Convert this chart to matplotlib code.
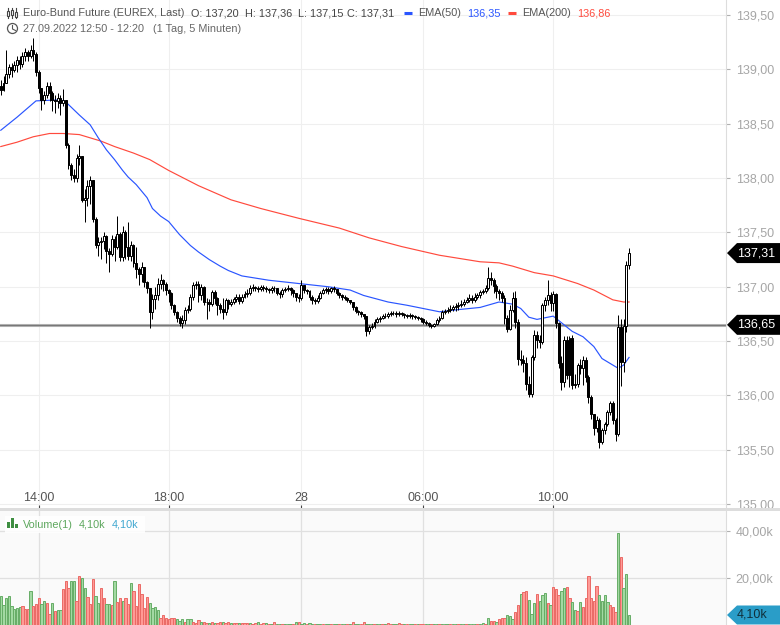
import matplotlib
matplotlib.use("Agg")
import matplotlib.pyplot as plt
from matplotlib.patches import Circle, Polygon, Rectangle

plt.rcParams['font.family'] = ['Liberation Sans', 'DejaVu Sans']

# 5 minute candles, 27.09.2022 12:50 - 28.09.2022 12:20
opens = [
    138.85, 138.81, 138.87, 138.96, 139.02, 138.99, 139.04, 139.09, 139.05, 139.12,
    139.16, 139.12, 139.18, 139.14, 138.98, 138.83, 138.72, 138.76, 138.85, 138.78,
    138.72, 138.71, 138.74, 138.69, 138.72, 138.30, 138.12, 138.03, 138.00, 138.18,
    138.20, 137.80, 137.82, 137.93, 137.98, 137.62, 137.38, 137.41, 137.42, 137.47,
    137.33, 137.30, 137.44, 137.37, 137.49, 137.27, 137.50, 137.37, 137.28, 137.38,
    137.22, 137.16, 137.12, 137.18, 137.04, 136.99, 136.77, 136.89, 136.92, 137.03,
    137.06, 137.03, 136.97, 136.94, 136.83, 136.77, 136.71, 136.67, 136.69, 136.79,
    136.80, 136.91, 137.02, 137.03, 136.92, 137.00, 136.86, 136.86, 136.84, 136.95,
    136.90, 136.83, 136.80, 136.77, 136.88, 136.84, 136.86, 136.89, 136.91, 136.87,
    136.91, 136.93, 136.94, 136.99, 137.00, 136.99, 136.98, 137.00, 136.99, 136.98,
    136.97, 136.99, 136.99, 136.94, 136.93, 136.97, 136.98, 136.99, 136.97, 136.94,
    136.91, 136.90, 137.02, 136.97, 136.96, 136.91, 136.88, 136.87, 136.90, 136.94,
    136.97, 136.98, 136.96, 136.99, 136.98, 136.94, 136.92, 136.91, 136.90, 136.88,
    136.86, 136.81, 136.78, 136.77, 136.75, 136.73, 136.59, 136.63, 136.64, 136.68,
    136.70, 136.71, 136.73, 136.73, 136.75, 136.76, 136.76, 136.75, 136.76, 136.75,
    136.74, 136.73, 136.74, 136.73, 136.72, 136.71, 136.70, 136.68, 136.67, 136.65,
    136.64, 136.66, 136.69, 136.71, 136.77, 136.78, 136.79, 136.80, 136.81, 136.82,
    136.83, 136.84, 136.86, 136.88, 136.90, 136.88, 136.91, 136.92, 136.95, 136.96,
    136.99, 137.08, 137.06, 137.01, 136.96, 136.94, 136.90, 136.71, 136.61, 136.79,
    136.90, 136.68, 136.34, 136.33, 136.30, 136.11, 136.01, 136.35, 136.56, 136.51,
    136.49, 136.83, 136.88, 136.92, 136.85, 136.93, 136.67, 136.30, 136.12, 136.51,
    136.19, 136.53, 136.10, 136.11, 136.28, 136.25, 136.33, 136.17, 135.99, 135.83,
    135.70, 135.77, 135.57, 135.68, 135.74, 135.85, 135.93, 135.77, 135.65, 136.63,
    136.31, 136.64, 137.20]
highs = [
    138.90, 138.94, 139.18, 139.05, 139.06, 139.08, 139.12, 139.12, 139.16, 139.20,
    139.18, 139.22, 139.29, 139.16, 138.99, 138.82, 138.80, 138.88, 138.88, 138.80,
    138.76, 138.78, 138.76, 138.82, 138.72, 138.32, 138.14, 138.08, 138.22, 138.30,
    138.20, 137.90, 137.98, 138.02, 137.98, 137.64, 137.46, 137.46, 137.50, 137.48,
    137.36, 137.48, 137.47, 137.65, 137.50, 137.56, 137.52, 137.60, 137.42, 137.39,
    137.37, 137.18, 137.23, 137.16, 137.05, 136.99, 136.93, 137.00, 137.08, 137.12,
    137.07, 137.04, 136.98, 136.95, 136.84, 136.78, 136.73, 136.74, 136.81, 136.83,
    136.93, 137.04, 137.05, 137.05, 137.03, 137.01, 136.90, 136.89, 136.97, 136.97,
    136.91, 136.85, 136.90, 136.90, 136.89, 136.89, 136.91, 136.93, 136.93, 136.93,
    136.96, 136.98, 137.02, 137.03, 137.01, 137.01, 137.02, 137.02, 137.01, 136.99,
    137.01, 137.01, 136.99, 136.96, 136.99, 137.00, 137.02, 137.00, 136.98, 136.94,
    136.93, 137.06, 137.02, 136.98, 136.97, 136.92, 136.90, 136.92, 136.96, 136.99,
    137.00, 137.00, 137.00, 137.01, 136.98, 136.95, 136.93, 136.92, 136.91, 136.88,
    136.86, 136.82, 136.79, 136.78, 136.75, 136.73, 136.65, 136.67, 136.70, 136.72,
    136.73, 136.75, 136.76, 136.77, 136.78, 136.78, 136.78, 136.78, 136.77, 136.76,
    136.75, 136.76, 136.75, 136.74, 136.73, 136.72, 136.71, 136.69, 136.68, 136.66,
    136.67, 136.71, 136.73, 136.79, 136.80, 136.81, 136.83, 136.83, 136.85, 136.86,
    136.88, 136.89, 136.91, 136.93, 136.92, 136.94, 136.94, 136.97, 136.98, 137.02,
    137.18, 137.14, 137.08, 137.03, 136.98, 136.96, 136.92, 136.74, 136.83, 136.95,
    136.96, 136.70, 136.42, 136.37, 136.35, 136.18, 136.37, 136.60, 136.59, 136.56,
    136.85, 136.91, 137.06, 136.95, 136.96, 136.94, 136.68, 136.36, 136.55, 136.55,
    136.55, 136.56, 136.20, 136.30, 136.34, 136.36, 136.35, 136.19, 136.00, 135.83,
    135.81, 135.79, 135.70, 135.76, 135.87, 135.95, 135.95, 135.79, 136.74, 136.70,
    136.70, 137.24, 137.36]
lows = [
    138.76, 138.80, 138.88, 138.92, 138.93, 138.98, 138.98, 139.00, 139.02, 139.08,
    139.08, 139.10, 139.08, 138.94, 138.78, 138.63, 138.68, 138.74, 138.71, 138.62,
    138.60, 138.64, 138.58, 138.66, 138.28, 138.08, 137.98, 137.96, 137.96, 138.12,
    137.78, 137.60, 137.74, 137.76, 137.60, 137.36, 137.28, 137.26, 137.35, 137.22,
    137.14, 137.28, 137.24, 137.35, 137.24, 137.24, 137.26, 137.25, 137.24, 137.18,
    137.08, 137.02, 137.04, 137.00, 136.94, 136.62, 136.70, 136.80, 136.88, 136.98,
    136.96, 136.92, 136.86, 136.80, 136.74, 136.68, 136.64, 136.62, 136.66, 136.76,
    136.78, 136.88, 136.98, 136.86, 136.88, 136.83, 136.70, 136.78, 136.82, 136.84,
    136.74, 136.76, 136.70, 136.74, 136.80, 136.82, 136.84, 136.86, 136.84, 136.85,
    136.90, 136.91, 136.92, 136.96, 136.96, 136.95, 136.96, 136.96, 136.95, 136.94,
    136.94, 136.95, 136.92, 136.90, 136.91, 136.95, 136.96, 136.92, 136.91, 136.87,
    136.86, 136.88, 136.94, 136.93, 136.88, 136.84, 136.84, 136.85, 136.89, 136.93,
    136.94, 136.93, 136.94, 136.95, 136.92, 136.90, 136.88, 136.88, 136.86, 136.84,
    136.79, 136.76, 136.74, 136.72, 136.70, 136.55, 136.57, 136.61, 136.62, 136.67,
    136.68, 136.70, 136.71, 136.71, 136.73, 136.74, 136.72, 136.73, 136.73, 136.71,
    136.71, 136.71, 136.70, 136.70, 136.69, 136.68, 136.66, 136.65, 136.63, 136.62,
    136.63, 136.65, 136.68, 136.70, 136.75, 136.76, 136.77, 136.78, 136.78, 136.79,
    136.81, 136.82, 136.85, 136.86, 136.85, 136.86, 136.89, 136.90, 136.93, 136.94,
    136.97, 137.02, 136.94, 136.90, 136.88, 136.86, 136.66, 136.58, 136.60, 136.77,
    136.62, 136.28, 136.28, 136.22, 136.05, 135.99, 135.99, 136.33, 136.44, 136.44,
    136.47, 136.78, 136.83, 136.78, 136.78, 136.62, 136.25, 136.05, 136.08, 136.15,
    136.08, 136.06, 136.07, 136.08, 136.20, 136.10, 136.12, 135.93, 135.78, 135.64,
    135.66, 135.52, 135.55, 135.65, 135.72, 135.82, 135.74, 135.58, 135.63, 136.09,
    136.22, 136.58, 137.16]
closes = [
    138.81, 138.87, 138.96, 139.02, 138.99, 139.04, 139.09, 139.05, 139.12, 139.16,
    139.12, 139.18, 139.14, 138.98, 138.83, 138.72, 138.76, 138.85, 138.78, 138.72,
    138.71, 138.74, 138.69, 138.72, 138.30, 138.12, 138.03, 138.00, 138.18, 138.20,
    137.80, 137.82, 137.93, 137.98, 137.62, 137.38, 137.41, 137.42, 137.47, 137.33,
    137.30, 137.44, 137.37, 137.49, 137.27, 137.50, 137.37, 137.28, 137.38, 137.22,
    137.16, 137.12, 137.18, 137.04, 136.99, 136.77, 136.89, 136.92, 137.03, 137.06,
    137.03, 136.97, 136.94, 136.83, 136.77, 136.71, 136.67, 136.69, 136.79, 136.80,
    136.91, 137.02, 137.03, 136.92, 137.00, 136.86, 136.86, 136.84, 136.95, 136.90,
    136.83, 136.80, 136.77, 136.88, 136.84, 136.86, 136.89, 136.91, 136.87, 136.91,
    136.93, 136.94, 136.99, 137.00, 136.99, 136.98, 137.00, 136.99, 136.98, 136.97,
    136.99, 136.99, 136.94, 136.93, 136.97, 136.98, 136.99, 136.97, 136.94, 136.91,
    136.90, 137.02, 136.97, 136.96, 136.91, 136.88, 136.87, 136.90, 136.94, 136.97,
    136.98, 136.96, 136.99, 136.98, 136.94, 136.92, 136.91, 136.90, 136.88, 136.86,
    136.81, 136.78, 136.77, 136.75, 136.73, 136.59, 136.63, 136.64, 136.68, 136.70,
    136.71, 136.73, 136.73, 136.75, 136.76, 136.76, 136.75, 136.76, 136.75, 136.74,
    136.73, 136.74, 136.73, 136.72, 136.71, 136.70, 136.68, 136.67, 136.65, 136.64,
    136.66, 136.69, 136.71, 136.77, 136.78, 136.79, 136.80, 136.81, 136.82, 136.83,
    136.84, 136.86, 136.88, 136.90, 136.88, 136.91, 136.92, 136.95, 136.96, 136.99,
    137.08, 137.06, 137.01, 136.96, 136.94, 136.90, 136.71, 136.61, 136.79, 136.90,
    136.68, 136.34, 136.33, 136.30, 136.11, 136.01, 136.35, 136.56, 136.51, 136.49,
    136.83, 136.88, 136.92, 136.85, 136.93, 136.67, 136.30, 136.12, 136.51, 136.19,
    136.53, 136.10, 136.11, 136.28, 136.25, 136.33, 136.17, 135.99, 135.83, 135.70,
    135.77, 135.57, 135.68, 135.74, 135.85, 135.93, 135.77, 135.65, 136.63, 136.31,
    136.64, 137.20, 137.31]

# volume per bar in thousands, g / r is the bar colour
volumes = [
    12.3, 8.6, 11.6, 12.3, 8.0, 6.8, 7.2, 7.7, 8.0, 6.5,
    6.8, 14.5, 8.0, 9.0, 11.6, 8.7, 10.0, 9.4, 4.6, 9.4,
    5.8, 6.2, 6.2, 15.2, 18.9, 15.5, 18.9, 18.6, 10.1, 21.0,
    19.9, 15.5, 12.0, 9.0, 19.4, 12.3, 9.4, 15.5, 11.6, 9.0,
    9.0, 8.6, 18.6, 9.9, 11.6, 10.3, 11.3, 9.0, 17.7, 14.2,
    8.0, 17.3, 13.3, 7.0, 12.0, 9.4, 7.2, 7.7, 6.2, 2.9,
    4.0, 2.7, 2.5, 2.6, 3.0, 2.5, 1.7, 2.2, 1.3, 2.5,
    2.5, 1.3, 0.8, 2.0, 1.0, 1.2, 0.7, 0.7, 1.0, 0.6,
    0.6, 1.0, 0.9, 0.8, 1.0, 0.7, 0.6, 0.8, 0.5, 0.8,
    0.7, 0.5, 0.6, 0.4, 0.7, 0.9, 0.4, 0.5, 0.6, 0.4,
    0.3, 1.0, 0.3, 0.3, 0.4, 0.3, 0.3, 0.3, 0.4, 1.0,
    0.9, 0.4, 0.5, 0.4, 0.5, 0.3, 0.3, 0.3, 0.3, 0.3,
    0.3, 0.3, 0.4, 0.3, 0.3, 0.3, 0.3, 0.3, 0.3, 0.3,
    1.0, 0.3, 0.3, 0.3, 0.9, 0.3, 0.3, 0.4, 0.3, 0.3,
    0.3, 0.4, 0.3, 0.5, 0.4, 0.4, 0.3, 0.5, 0.4, 0.3,
    0.4, 0.3, 0.3, 0.3, 0.4, 0.3, 0.4, 0.4, 0.3, 0.3,
    0.3, 0.4, 0.3, 0.3, 0.3, 0.4, 0.3, 0.3, 0.3, 0.3,
    0.3, 0.3, 0.3, 0.4, 0.3, 0.3, 0.4, 0.3, 0.7, 0.3,
    2.9, 1.4, 1.4, 1.0, 2.2, 2.9, 2.9, 4.0, 3.6, 2.5,
    5.5, 8.6, 13.3, 13.8, 14.5, 10.7, 4.6, 9.4, 13.3, 10.0,
    12.9, 13.6, 9.4, 8.3, 16.0, 15.1, 12.9, 14.6, 15.5, 16.0,
    11.5, 9.9, 6.4, 5.9, 9.9, 7.7, 11.2, 20.7, 11.3, 10.3,
    16.4, 12.9, 10.3, 12.5, 9.9, 8.6, 7.4, 5.5, 39.4, 29.0,
    15.5, 21.6, 4.2]
vol_dirs = (
    "ggggggggrr" "rgrrrggrrg" "rggrrrggrr" "ggrrrggrrg" "grgrrgrrgr"
    "rrrrrggggr" "rrrrrgggrg" "grrrgrrgrg" "rrgrrgrrgr" "rrgrrgrrgr"
    "grggrgggrg" "rggrggrggr" "ggrggrggrg" "rggrrgggrg" "grgrrggrrg"
    "rggrgrrggr" "ggrgggrggr" "ggrgggrggr" "grrgrrrggg" "rrgrrgggrg"
    "ggrgrrrggr" "rggrgrrrrr" "rggggrrrgr" "ggg")

ema50_bars = [0, 6, 13, 22, 24, 29, 33, 36, 39, 42, 45, 47, 50, 54, 56, 59, 62, 66, 70, 73,
              77, 81, 84, 89, 99, 110, 121, 129, 134, 143, 150, 162, 169, 177, 184, 189,
              192, 195, 198, 204, 206, 211, 215, 219, 222, 228, 230, 232]
ema50_vals = [138.44, 138.56, 138.71, 138.72, 138.70, 138.58, 138.49, 138.37, 138.26, 138.17,
              138.07, 138.01, 137.94, 137.82, 137.72, 137.65, 137.60, 137.48, 137.38, 137.32,
              137.25, 137.19, 137.15, 137.10, 137.06, 137.03, 137.00, 136.97, 136.92, 136.86,
              136.83, 136.77, 136.79, 136.81, 136.86, 136.84, 136.80, 136.72, 136.70, 136.73,
              136.69, 136.59, 136.54, 136.45, 136.34, 136.25, 136.28, 136.35]
ema200_bars = [0, 6, 12, 18, 23, 29, 37, 42, 49, 55, 62, 73, 85, 96, 110, 125, 136, 148, 162,
               177, 184, 189, 197, 204, 213, 219, 226, 230, 232]
ema200_vals = [138.29, 138.33, 138.38, 138.41, 138.41, 138.40, 138.34, 138.29, 138.23, 138.17,
               138.07, 137.93, 137.80, 137.72, 137.63, 137.54, 137.45, 137.37, 137.29,
               137.23, 137.22, 137.19, 137.13, 137.10, 137.03, 136.97, 136.88, 136.86, 136.86]

hline_value = 136.65
last_price = 137.31
last_volume = 4.10
price_ticks = [135.0, 135.5, 136.0, 136.5, 137.0, 137.5, 138.0, 138.5, 139.0, 139.5]
vol_ticks = [20, 40]
time_bars = [14, 62, 111, 156, 204]
time_labels = ["14:00", "18:00", "28", "06:00", "10:00"]


def de(value, fmt="{:.2f}"):
    return fmt.format(value).replace(".", ",")


W, H = 780, 625
PANE_W = 726
fig = plt.figure(figsize=(W / 100, H / 100), dpi=100)
fig.patch.set_facecolor("white")

# price pane
ax = fig.add_axes([0, (H - 508) / H, PANE_W / W, 508 / H])
ax.set_xlim(-0.295, 267.8)
ax.set_ylim(134.965, 139.638)
ax.set_axisbelow(True)
ax.grid(True, color="#efefef", lw=0.8)

xs = list(range(len(closes)))
ax.axhline(hline_value, color="#b0b0b0", lw=2.2, zorder=1.5)
ax.axhline(hline_value, color="#777777", lw=0.7, zorder=1.6)
ax.plot(ema200_bars, ema200_vals, color="#ff4a3d", lw=0.85, zorder=2)
ax.plot(ema50_bars, ema50_vals, color="#2a55ff", lw=0.85, zorder=2)

ax.vlines(xs, lows, highs, color="black", lw=0.72, zorder=3)
body_bottom = [min(o, c) for o, c in zip(opens, closes)]
body_height = [abs(c - o) for o, c in zip(opens, closes)]
body_color = ["white" if c >= o else "black" for o, c in zip(opens, closes)]
ax.bar(xs, body_height, bottom=body_bottom, width=0.72, color=body_color,
       edgecolor="black", lw=0.72, zorder=4)

ax.yaxis.tick_right()
ax.set_yticks(price_ticks)
ax.set_yticklabels([de(v) for v in price_ticks])
ax.set_xticks(time_bars)
ax.set_xticklabels([])
ax.tick_params(axis="y", length=3, width=0.8, color="#b0b0b0", labelcolor="#a6a6a6",
               labelsize=9, pad=4)
ax.tick_params(axis="x", direction="in", length=2.5, width=0.8, color="#444444")
for s in ["top", "left", "bottom"]:
    ax.spines[s].set_visible(False)
ax.spines["right"].set_color("#dddddd")

# time labels sit just over the bottom edge of the pane
for b, lab in zip(time_bars, time_labels):
    ax.text(b, 10 / 508, lab, transform=ax.get_xaxis_transform(), fontsize=9, color="#555555",
            ha="center", va="center")

# volume pane
vax = fig.add_axes([0, 0, PANE_W / W, 114 / H])
vax.set_facecolor("#fafafa")
vax.set_xlim(-0.295, 267.8)
vax.set_ylim(-0.2, 48.8)
vax.set_axisbelow(True)
vax.grid(True, color="#e0e0e0", lw=0.9)
vol_face = ["#a3d9a3" if d == "g" else "#ff9a96" for d in vol_dirs]
vol_edge = ["#66ad66" if d == "g" else "#ea6a65" for d in vol_dirs]
vax.bar(xs, volumes, width=0.85, color=vol_face, edgecolor=vol_edge, lw=0.7, zorder=3)
vax.yaxis.tick_right()
vax.set_yticks(vol_ticks)
vax.set_yticklabels([de(v) + "k" for v in vol_ticks])
vax.set_xticks(time_bars)
vax.set_xticklabels([])
vax.tick_params(axis="y", length=3, width=0.8, color="#b0b0b0", labelcolor="#a6a6a6",
                labelsize=9, pad=4)
vax.tick_params(axis="x", length=0)
for s in ["top", "left", "bottom"]:
    vax.spines[s].set_visible(False)
vax.spines["right"].set_color("#dddddd")

# overlay in pixel coordinates for header, tags and the pane separator
fig.canvas.draw()
ov = fig.add_axes([0, 0, 1, 1])
ov.set_xlim(0, W)
ov.set_ylim(H, 0)
ov.axis("off")
ov.patch.set_alpha(0)
ov.add_patch(Rectangle((0, 507.5), W, 3.5, color="#dddddd", lw=0))


def label(x, y, s, color="#555555", size=7.85):
    ov.text(x, y, s, color=color, fontsize=size, ha="left", va="center")


header_y = 13.5
label(23, header_y, "Euro-Bund Future (EUREX, Last)")
label(191, header_y, "O: " + de(137.20), "#444444")
label(245, header_y, "H: " + de(137.36), "#444444")
label(298, header_y, "L: " + de(137.15), "#444444")
label(347, header_y, "C: " + de(137.31), "#444444")
ov.plot([404, 412], [13, 13], color="#2a55ff", lw=2.2, solid_capstyle="butt")
label(418, header_y, "EMA(50)")
label(467, header_y, de(ema50_vals[-1]), "#2a55ff")
ov.plot([508, 516], [13, 13], color="#ff4a3d", lw=2.2, solid_capstyle="butt")
label(522, header_y, "EMA(200)")
label(577, header_y, de(ema200_vals[-1]), "#ff4a3d")
label(23, 29.5, "27.09.2022 12:50 - 12:20", "#666666")
label(153, 29.5, "(1 Tag, 5 Minuten)", "#666666")

# candle icon and clock icon
for ix, y0, y1, t0, t1 in [(8, 11, 16, 8, 18), (12, 10, 15, 8, 18), (16, 12, 17, 8, 18)]:
    ov.plot([ix, ix], [t0, t1], color="#444444", lw=0.8)
    ov.add_patch(Rectangle((ix - 1.2, y0), 2.4, y1 - y0, fc="white", ec="#444444", lw=0.8, zorder=3))
ov.add_patch(Circle((12.5, 28.5), 5, fc="white", ec="#555555", lw=0.9))
ov.plot([12.5, 12.5, 15.5], [25.5, 29, 30.5], color="#555555", lw=0.8)

# volume legend
ov.add_patch(Rectangle((5, 516), 140, 17, fc="white", ec="none", alpha=0.85))
for bx, top in [(7, 522), (11, 518), (15, 524)]:
    ov.add_patch(Rectangle((bx, top), 3.2, 528 - top, fc="#3e8e41", ec="none"))
label(23, 524.5, "Volume(1)", "#5da75d")
label(79, 524.5, de(last_volume) + "k", "#5da75d")
label(112, 524.5, de(last_volume) + "k", "#3fa7d0")


def value_tag(axes, value, text, face, text_color, half=10):
    y = H - axes.transData.transform((0, value))[1]
    pts = [(727, y), (737, y - half), (W, y - half), (W, y + half), (737, y + half)]
    ov.add_patch(Polygon(pts, closed=True, fc=face, ec="none", zorder=5, clip_on=False))
    ov.text(737, y, text, color=text_color, fontsize=9, ha="left", va="center", zorder=6)


value_tag(ax, last_price, de(last_price), "black", "white")
value_tag(ax, hline_value, de(hline_value), "black", "white")
value_tag(vax, last_volume, de(last_volume) + "k", "#2a9dc8", "#10303c", half=9.5)

fig.savefig("out.png", dpi=100)
